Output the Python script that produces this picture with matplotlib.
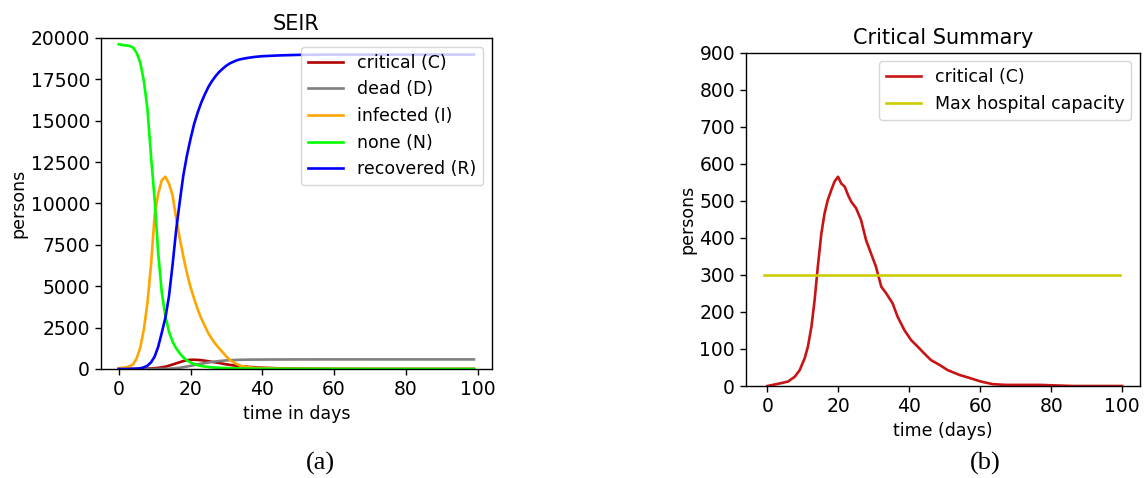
import matplotlib
matplotlib.use("Agg")
import matplotlib.pyplot as plt

seir_days = [0, 1, 2, 3, 4, 5, 6, 7, 8, 9, 10, 11, 12, 13, 14, 15, 16, 17, 18, 19, 20,
             21, 22, 23, 24, 25, 26, 27, 28, 29, 30, 31, 32, 33, 34, 36, 38, 40, 45, 50, 60, 70, 80, 99]

critical = [0, 0, 0, 2, 4, 6, 10, 16, 25, 35, 50, 70, 100, 140, 200, 270, 340, 410, 480, 530, 555,
            560, 550, 530, 500, 470, 430, 400, 360, 320, 280, 250, 220, 190, 165, 130, 100, 75, 40, 20, 7, 2, 1, 0]
dead = [0, 0, 0, 0, 0, 0, 0, 0, 1, 2, 3, 5, 8, 12, 20, 32, 50, 75, 110, 150, 190,
        235, 280, 320, 360, 395, 430, 455, 480, 500, 520, 532, 542, 550, 556, 565, 569, 572, 575, 578, 580, 580, 580, 580]
infected = [50, 70, 100, 160, 280, 650, 1300, 2400, 4000, 6300, 9300, 10600, 11400, 11620, 11200, 10500, 9100, 7900, 6800, 5800, 4950,
            4250, 3600, 3050, 2600, 2150, 1800, 1500, 1250, 1000, 750, 540, 400, 280, 190, 110, 70, 50, 25, 12, 5, 2, 1, 0]
none = [19620, 19580, 19550, 19520, 19420, 19100, 18500, 17400, 15700, 12830, 10250, 7000, 4600, 3200, 2250, 1650, 1250, 950, 700, 520, 400,
        300, 230, 180, 150, 120, 100, 85, 75, 65, 55, 48, 42, 37, 32, 25, 20, 16, 10, 7, 4, 2, 1, 0]
recovered = [0, 0, 0, 5, 10, 20, 40, 100, 200, 400, 750, 1350, 2200, 3100, 4400, 6300, 8400, 10100, 11700, 12900, 13900,
             14800, 15500, 16100, 16600, 17050, 17400, 17700, 17950, 18150, 18330, 18470, 18570, 18660, 18720, 18800, 18860, 18900, 18950, 18980, 19000, 19000, 19000, 19000]

seir_yticks = [0, 2500, 5000, 7500, 10000, 12500, 15000, 17500, 20000]

#Critical summary plot (b), read point by point.
summary_days = [0, 3.5, 5.8, 7.7, 9.1, 10.5, 11.4, 12.4, 13.3, 14.2, 15.2, 16.1, 17.0, 18.0, 18.9, 19.9,
                20.8, 21.8, 22.7, 23.6, 25.0, 26.4, 27.8, 29.2, 30.6, 32.1, 33.5, 35.3, 36.7, 38.6,
                40.5, 42.4, 44.2, 46.1, 48.5, 50.8, 54.1, 56.9, 60.2, 63.5, 67.2, 76.6, 86, 100]
summary_critical = [0, 7, 12, 25, 43, 75, 106, 160, 232, 322, 412, 466, 502, 529, 552, 565,
                    547, 538, 516, 498, 480, 448, 394, 358, 322, 268, 250, 223, 187, 151,
                    124, 106, 88, 70, 57, 43, 30, 22, 12, 5, 3, 3, 0, 0]
capacity_days = [-1, 99.5]
capacity = [300, 300]

summary_yticks = [0, 100, 200, 300, 400, 500, 600, 700, 800, 900]
x_ticks = [0, 20, 40, 60, 80, 100]

#Everything is a bit bigger than the matplotlib default.
plt.rcParams["font.size"] = 12.5
plt.rcParams["axes.titlesize"] = 15
plt.rcParams["xtick.labelsize"] = 13.5
plt.rcParams["ytick.labelsize"] = 13.5
plt.rcParams["lines.linewidth"] = 1.9
plt.rcParams["xtick.major.size"] = 4.4
plt.rcParams["ytick.major.size"] = 4.4
plt.rcParams["xtick.major.width"] = 1.0
plt.rcParams["ytick.major.width"] = 1.0
plt.rcParams["axes.linewidth"] = 1.0

fig = plt.figure(figsize=(11.44, 4.78), dpi=100)

#(a) SEIR
ax1 = fig.add_axes([101 / 1144, 1 - 369 / 478, 390.7 / 1144, 331 / 478])
ax1.plot(seir_days, critical, color="#b00000", label="critical (C)")
ax1.plot(seir_days, dead, color="gray", label="dead (D)")
ax1.plot(seir_days, infected, color="orange", label="infected (I)")
ax1.plot(seir_days, none, color="lime", label="none (N)")
ax1.plot(seir_days, recovered, color="blue", label="recovered (R)")
ax1.set_ylim(0, 20000)
ax1.set_yticks(seir_yticks)
ax1.set_xticks(x_ticks)
ax1.set_title("SEIR")
ax1.set_xlabel("time in days")
ax1.set_ylabel("persons", labelpad=2)
ax1.legend(loc="upper right")

#(b) Critical Summary
ax2 = fig.add_axes([746 / 1144, 1 - 386 / 478, 394 / 1144, 333.3 / 478])
ax2.plot(summary_days, summary_critical, color="#c81414", label="critical (C)")
ax2.plot(capacity_days, capacity, color="#cccc00", label="Max hospital capacity")
ax2.set_ylim(0, 900)
ax2.set_yticks(summary_yticks)
ax2.set_xticks(x_ticks)
ax2.set_title("Critical Summary")
ax2.set_xlabel("time (days)")
ax2.set_ylabel("persons", labelpad=2)
ax2.legend(loc="upper right")

#Captions under each panel
fig.text(320 / 1144, 1 - 463 / 478, "(a)", ha="center", va="center",
         family="Liberation Serif", fontsize=19)
fig.text(985 / 1144, 1 - 463 / 478, "(b)", ha="center", va="center",
         family="Liberation Serif", fontsize=19)

fig.savefig("out.png", dpi=100)
